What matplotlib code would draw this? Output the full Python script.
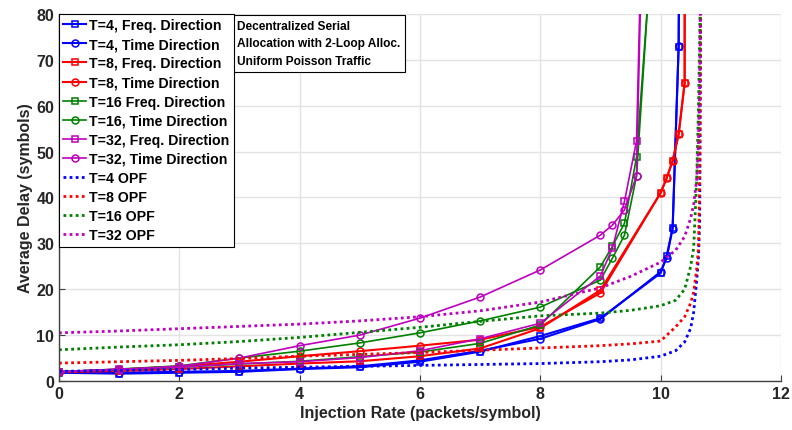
import numpy as np
import matplotlib
matplotlib.use('Agg')
import matplotlib.pyplot as plt

plt.rcParams['font.family'] = 'Liberation Sans'
plt.rcParams['font.weight'] = 'bold'

# simulated curves (freq / time direction)
x_t4 = [0, 1, 2, 3, 4, 5, 6, 7, 8, 9, 10, 10.1, 10.2, 10.3, 10.4]
t4_freq = [1.8, 1.6, 1.8, 2.0, 2.6, 3.0, 4.2, 6.4, 9.8, 13.7, 23.5, 27.2, 33.4, 72.8, 300]
t4_time = [1.9, 1.8, 2.0, 2.2, 2.7, 3.2, 4.5, 6.6, 9.2, 13.5, 23.8, 26.8, 33.2, 73.0, 300]

x_t8 = [0, 1, 2, 3, 4, 5, 6, 7, 8, 9, 10, 10.1, 10.2, 10.3, 10.4, 10.42]
t8_freq = [1.9, 2.2, 2.6, 3.2, 3.8, 4.3, 5.4, 7.1, 11.5, 19.8, 41.0, 44.2, 48.0, 53.8, 65.0, 1000]
t8_time = [2.0, 2.5, 3.2, 4.2, 5.4, 6.5, 7.7, 9.0, 11.8, 19.2, 41.0, 44.2, 48.0, 53.8, 65.0, 1000]

x_t16 = [0, 1, 2, 3, 4, 5, 6, 7, 8, 9, 9.2, 9.4, 9.6, 9.8]
t16_freq = [2.0, 2.5, 3.0, 3.7, 4.3, 5.3, 6.3, 8.2, 12.2, 24.9, 29.4, 34.4, 48.8, 85]
t16_time = [2.0, 2.6, 3.3, 5.0, 6.5, 8.3, 10.5, 13.1, 16.1, 22.0, 26.8, 31.8, 44.7, 85]
t32_freq = [2.0, 2.6, 3.0, 3.8, 4.2, 5.1, 6.6, 9.2, 12.6, 22.9, 29.0, 39.2, 52.3, 160]
t32_time = [2.0, 2.5, 3.2, 5.0, 7.7, 10.0, 13.7, 18.3, 24.2, 31.8, 34.0, 37.3, 44.7, 160]

# OPF curves
x_opf = [0, 1, 2, 3, 4, 5, 6, 7, 8, 9, 9.5, 10, 10.25, 10.4, 10.5, 10.55, 10.6, 10.63, 10.65, 10.67]
opf_t4 = [2.1, 2.3, 2.5, 2.8, 3.0, 3.2, 3.4, 3.6, 3.8, 4.2, 4.6, 5.4, 6.6, 8.5, 11.5, 15, 22, 27, 35, 90]
opf_t8 = [3.9, 4.2, 4.5, 4.9, 5.4, 5.8, 6.2, 6.7, 7.2, 7.7, 8.1, 8.7, 11.8, 14, 17, 19.4, 24.4, 29, 45, 90]
opf_t16 = [6.8, 7.4, 7.9, 8.6, 9.5, 10.6, 11.7, 13.0, 14.2, 14.8, 15.4, 16.4, 17.6, 20, 25, 29, 44, 60, 75, 95]
opf_t32 = [10.5, 10.9, 11.4, 11.9, 12.4, 13.1, 14.0, 15.3, 17.2, 20.3, 22.8, 25.9, 28.5, 31.5, 35.5, 38.5, 44, 52, 65, 95]

blue = '#0000ff'
red = '#ff0000'
green = '#008000'
mag = '#bf00bf'

fig = plt.figure(figsize=(7.92, 4.31), dpi=100)
ax = fig.add_axes([0.0745, 0.1137, 0.9115, 0.8515])

mk = dict(markersize=5, markerfacecolor='none', markeredgewidth=1.1)
ax.plot(x_t4, t4_freq, '-s', color=blue, lw=1.5, label='T=4, Freq. Direction', **mk)
ax.plot(x_t4, t4_time, '-o', color=blue, lw=1.5, label='T=4, Time Direction', **mk)
ax.plot(x_t8, t8_freq, '-s', color=red, lw=1.5, label='T=8, Freq. Direction', **mk)
ax.plot(x_t8, t8_time, '-o', color=red, lw=1.5, label='T=8, Time Direction', **mk)
ax.plot(x_t16, t16_freq, '-s', color=green, lw=1.2, label='T=16 Freq. Direction', **mk)
ax.plot(x_t16, t16_time, '-o', color=green, lw=1.2, label='T=16, Time Direction', **mk)
ax.plot(x_t16, t32_freq, '-s', color=mag, lw=1.2, label='T=32, Freq. Direction', **mk)
ax.plot(x_t16, t32_time, '-o', color=mag, lw=1.2, label='T=32, Time Direction', **mk)

dot = (0, (1, 1.2))
ax.plot(x_opf, opf_t4, color=blue, ls=dot, lw=2, label='T=4 OPF')
ax.plot(x_opf, opf_t8, color=red, ls=dot, lw=2, label='T=8 OPF')
ax.plot(x_opf, opf_t16, color=green, ls=dot, lw=2, label='T=16 OPF')
ax.plot(x_opf, opf_t32, color=mag, ls=dot, lw=2, label='T=32 OPF')

ax.set_xlim(0, 12)
ax.set_ylim(0, 80)
ax.set_xticks(range(0, 13, 2))
ax.set_yticks(range(0, 81, 10))
ax.grid(True, color='#e3e3e3', lw=1)
ax.set_axisbelow(True)
for s in ['top', 'right']:
    ax.spines[s].set_visible(False)
for s in ['left', 'bottom']:
    ax.spines[s].set_color('#404040')
    ax.spines[s].set_linewidth(1.0)
ax.tick_params(direction='in', length=4, color='#404040', labelsize=11.5,
               labelcolor='#262626')
ax.set_xlabel('Injection Rate (packets/symbol)', fontsize=11.5, fontweight='bold',
              color='#262626', labelpad=3)
ax.set_ylabel('Average Delay (symbols)', fontsize=11.5, fontweight='bold',
              color='#262626', labelpad=2)

leg = ax.legend(loc='upper left', bbox_to_anchor=(0, 1), borderaxespad=0,
                fontsize=10.2, fancybox=False, framealpha=1, edgecolor='black',
                handlelength=1.6, labelspacing=0.36, handletextpad=0.25,
                borderpad=0.3)
leg.get_frame().set_linewidth(0.8)
for t in leg.get_texts():
    t.set_fontweight('bold')

ax.text(0.247, 0.985, 'Decentralized Serial\nAllocation with 2-Loop Alloc.\nUniform Poisson Traffic',
        transform=ax.transAxes, ha='left', va='top', fontsize=8.6, fontweight='bold',
        linespacing=1.65,
        bbox=dict(boxstyle='square,pad=0.4', fc='white', ec='black', lw=0.8))

fig.savefig('out.png', dpi=100)
